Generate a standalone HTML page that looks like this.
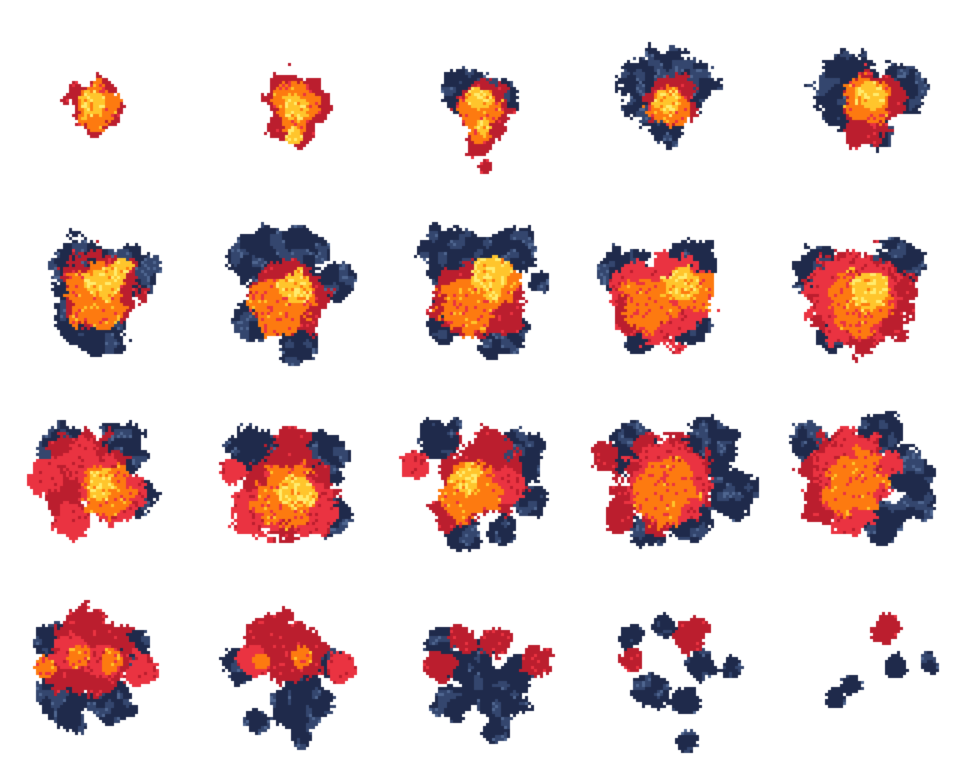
<!DOCTYPE html>
<html><head><meta charset="utf-8"><style>
html,body{margin:0;padding:0;background:#fff;width:960px;height:768px;overflow:hidden;font-family:"Liberation Sans",sans-serif}
#sheet{position:absolute;left:0;top:0}
.frame{position:absolute;width:192px;height:192px}
</style></head><body>
<canvas id="sheet" width="960" height="768"></canvas>
<div id="frames"></div>
<script>
// color indices: 0 smoke, 2 crimson, 3 red, 4 orange, 5 yellow
const frameBlobs = [
 [[93,105,28,2],[95,105,22,4],[92,103,13,5]],
 [[295,100,30,2],[290,125,20,2],[295,105,22,4],[293,120,14,4],[295,105,12,5],[292,135,8,5]],
 [[465,90,24,0],[500,95,18,0],[482,105,28,2],[480,140,16,2],[485,165,8,2],[478,105,20,4],[480,135,10,4],[478,100,12,5],[482,125,8,5]],
 [[660,90,40,0],[690,80,25,0],[665,125,20,0],[670,100,25,2],[665,105,20,4],[665,100,12,5]],
 [[850,90,35,0],[900,85,25,0],[870,130,20,0],[870,100,30,2],[860,130,18,2],[865,100,22,4],[868,95,14,5]],
 [[80,265,30,0],[130,275,28,0],[100,330,25,0],[70,320,20,0],[100,290,38,2],[95,295,32,4],[105,280,18,5],[120,265,10,5]],
 [[260,255,30,0],[300,250,25,0],[335,280,18,0],[295,340,20,0],[250,320,18,0],[290,295,38,2],[280,305,30,4],[295,285,16,5]],
 [[450,255,30,0],[510,250,25,0],[500,330,25,0],[445,320,20,0],[540,280,12,0],[490,350,10,0],[470,300,38,2],[500,310,25,2],[465,305,28,4],[500,280,18,4],[490,275,20,5]],
 [[625,270,25,0],[690,260,25,0],[640,335,18,0],[690,325,20,0],[660,300,45,3],[630,310,20,2],[650,300,28,4],[690,290,22,4],[680,285,18,5]],
 [[820,270,25,0],[895,265,25,0],[830,335,15,0],[860,300,50,2],[850,295,45,3],[860,300,30,4],[870,290,18,5]],
 [[60,450,25,0],[120,445,25,0],[135,500,20,0],[85,470,40,2],[65,505,22,2],[45,475,18,3],[80,460,22,3],[110,490,30,3],[70,520,18,3],[105,490,25,4],[100,485,15,5]],
 [[250,450,25,0],[320,460,25,0],[330,515,20,0],[290,445,20,2],[285,490,45,2],[230,470,15,3],[255,510,25,3],[310,510,25,3],[285,495,30,4],[295,490,18,5]],
 [[440,440,22,0],[520,455,25,0],[530,500,15,0],[460,530,20,0],[500,530,15,0],[480,475,40,2],[450,510,20,2],[415,465,15,3],[505,485,18,3],[470,490,30,4],[465,475,15,5]],
 [[630,450,25,0],[710,445,30,0],[730,490,25,0],[645,530,18,0],[690,520,22,0],[605,455,15,2],[660,480,45,2],[620,515,15,2],[665,480,40,3],[665,490,30,4]],
 [[810,440,20,0],[880,430,20,0],[905,470,25,0],[880,520,22,0],[915,500,18,0],[840,470,40,2],[820,510,15,2],[850,470,40,3],[850,515,20,3],[855,480,28,4],[840,495,18,4]],
 [[50,640,18,0],[130,650,22,0],[60,700,25,0],[110,700,22,0],[75,720,12,0],[90,650,40,2],[55,670,18,2],[70,650,18,3],[140,670,18,3],[105,660,15,3],[78,655,12,4],[110,660,12,4],[45,665,10,4]],
 [[240,665,18,0],[300,700,28,0],[255,720,12,0],[300,735,10,0],[330,660,15,0],[275,640,30,2],[295,655,28,2],[250,660,15,3],[340,665,15,3],[260,660,8,4],[300,655,10,4]],
 [[440,640,15,0],[470,665,25,0],[500,690,28,0],[450,700,20,0],[495,730,12,0],[520,665,15,0],[460,637,14,2],[495,640,15,2],[440,665,15,2],[535,660,15,2]],
 [[630,635,12,0],[665,625,12,0],[700,665,15,0],[650,690,18,0],[685,700,15,0],[730,665,10,0],[685,740,10,0],[690,635,18,2],[630,660,12,2]],
 [[885,628,14,2],[895,665,12,0],[928,662,10,0],[850,685,10,0],[835,698,10,0]]
];
const palette = {navy:'#1f2a4b',slate:'#34466e',light:'#4f6690',crimson:'#bb1e2e',red:'#ea3341',orange:'#fd7a10',yellow:'#ffc52c',pale:'#ffec6e'};
function hash(x,y){let h=(x*374761393+y*668265263)|0;h=(h^(h>>>13))*1274126177|0;return ((h^(h>>>16))>>>0)/4294967296;}
function vnoise(x,y){const xi=Math.floor(x),yi=Math.floor(y),fx=x-xi,fy=y-yi;
 const s=t=>t*t*(3-2*t);const a=hash(xi,yi),b=hash(xi+1,yi),c=hash(xi,yi+1),d=hash(xi+1,yi+1);
 const u=s(fx),v=s(fy);return a+(b-a)*u+(c-a)*v+(a-b-c+d)*u*v;}
const ctx=document.getElementById('sheet').getContext('2d');
const P=3;
frameBlobs.forEach((blobs,fi)=>{
 const col=fi%5,row=Math.floor(fi/5);
 const div=document.createElement('div');div.className='frame';
 div.style.left=(col*192)+'px';div.style.top=(row*192)+'px';
 
 
 document.getElementById('frames').appendChild(div);
 const x0=col*192,y0=row*192;
 for(let py=y0;py<y0+192;py+=P){for(let px=x0;px<x0+192;px+=P){
  const gx=px/P,gy=py/P;let c=-1;
  for(const b of blobs){
   const d=Math.hypot(px-b[0],py-b[1]);
   const n=vnoise(gx/4+fi*7+b[3],gy/4+b[3]*3)*0.55+hash(gx+b[3],gy)*0.22;
   if(d<b[2]*(0.62+n))c=b[3];
  }
  if(c<0)continue;
  const h=hash(gx*3+1,gy*5+2);let fill;
  if(c===0){const m=vnoise(gx/3+50,gy/3);fill=m>0.66?(h>0.85?palette.light:palette.slate):palette.navy;}
  else if(c===2)fill=h>0.95?palette.red:palette.crimson;
  else if(c===3)fill=h>0.9?palette.crimson:palette.red;
  else if(c===4)fill=h>0.9?palette.red:(h>0.85?palette.yellow:palette.orange);
  else fill=h>0.75?palette.pale:(h>0.65?palette.orange:palette.yellow);
  ctx.fillStyle=fill;ctx.fillRect(px,py,P,P);
 }}
});
</script>
</body></html>
